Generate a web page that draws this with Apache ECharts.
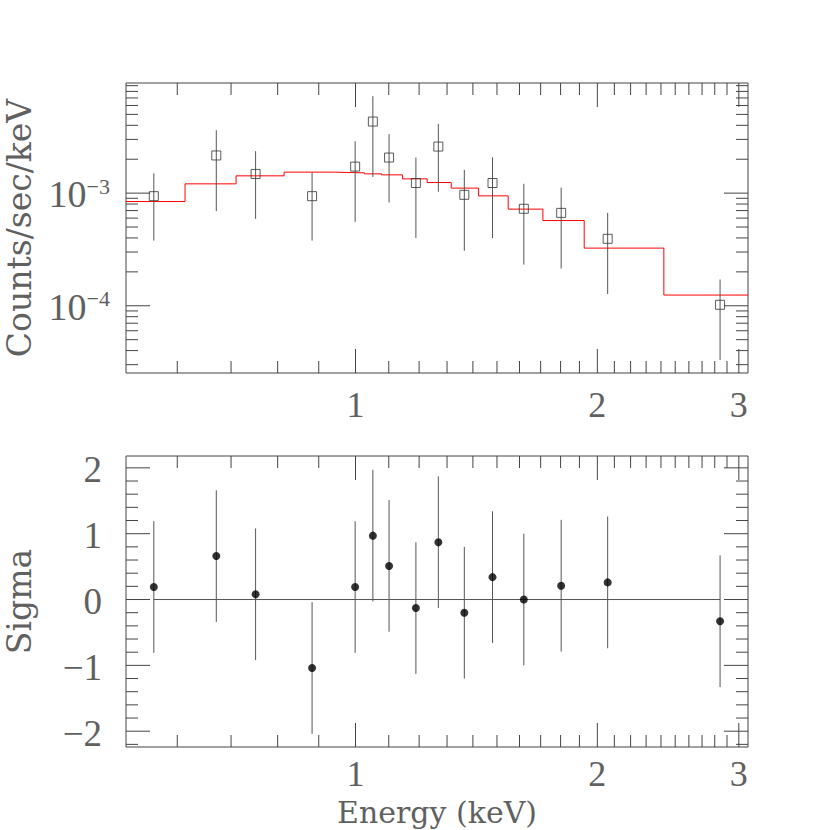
<!DOCTYPE html>
<html><head><meta charset="utf-8">
<script src="https://cdn.jsdelivr.net/npm/echarts@6/dist/echarts.min.js"></script>
<style>html,body{margin:0;padding:0;background:#fff}#c{width:830px;height:830px}</style>
</head><body><div id="c"></div>
<script>
// ---- data ----
const energy   = [0.561, 0.671, 0.751, 0.883, 0.999, 1.051, 1.101, 1.189, 1.268, 1.366, 1.481, 1.620, 1.803, 2.060, 2.843];
const rate     = [9.4e-4, 2.16e-3, 1.48e-3, 9.4e-4, 1.72e-3, 4.32e-3, 2.07e-3, 1.23e-3, 2.59e-3, 9.66e-4, 1.23e-3, 7.26e-4, 6.68e-4, 3.93e-4, 1.02e-4];
const rateLow  = [3.79e-4, 6.92e-4, 5.91e-4, 3.79e-4, 5.56e-4, 1.39e-3, 8.26e-4, 3.99e-4, 1.03e-3, 3.08e-4, 3.99e-4, 2.32e-4, 2.14e-4, 1.27e-4, 3.30e-5];
const rateHigh = [1.50e-3, 3.62e-3, 2.36e-3, 1.52e-3, 2.89e-3, 7.26e-3, 3.34e-3, 2.07e-3, 4.12e-3, 1.61e-3, 2.08e-3, 1.21e-3, 1.12e-3, 6.68e-4, 1.71e-4];
const sigma    = [0.19, 0.66, 0.08, -1.04, 0.19, 0.97, 0.51, -0.13, 0.87, -0.20, 0.34, 0.00, 0.21, 0.26, -0.33];
const sigmaErr = [1, 1, 1, 1, 1, 1, 1, 1, 1, 1, 1, 1, 1, 1, 1];
const modelEdges  = [0.518, 0.6135, 0.7101, 0.8149, 0.9389, 1.026, 1.0774, 1.144, 1.228, 1.3157, 1.423, 1.549, 1.711, 1.926, 2.420, 3.08];
const modelValues = [8.42e-4, 1.209e-3, 1.424e-3, 1.536e-3, 1.514e-3, 1.483e-3, 1.453e-3, 1.339e-3, 1.242e-3, 1.108e-3, 9.46e-4, 7.21e-4, 5.71e-4, 3.25e-4, 1.245e-4];

// ---- axes ----
const xMin = 0.518, xMax = 3.08;
const yTopMin = 2.53e-5, yTopMax = 9.5e-3;
const yBotMin = -2.24, yBotMax = 2.18;
const xMajorTicks = [1, 2, 3];
const xMinorTicks = [0.6, 0.7, 0.8, 0.9, 1.1, 1.2, 1.3, 1.4, 1.5, 1.6, 1.7, 1.8, 1.9, 2.1, 2.2, 2.3, 2.4, 2.5, 2.6, 2.7, 2.8, 2.9];
const xTickLabels = ['1', '2', '3'];
const yTopMajorTicks = [1e-3, 1e-4];
const yTopMinorTicks = [9e-3, 8e-3, 7e-3, 6e-3, 5e-3, 4e-3, 3e-3, 2e-3, 9e-4, 8e-4, 7e-4, 6e-4, 5e-4, 4e-4, 3e-4, 2e-4, 9e-5, 8e-5, 7e-5, 6e-5, 5e-5, 4e-5, 3e-5];
const yTopLabelExps = ['−3', '−4'];
const yBotMajorTicks = [-2, -1, 0, 1, 2];
const yBotMinorTicks = [-2.2, -1.8, -1.6, -1.4, -1.2, -0.8, -0.6, -0.4, -0.2, 0.2, 0.4, 0.6, 0.8, 1.2, 1.4, 1.6, 1.8];
const yBotLabels = ['−2', '−1', '0', '1', '2'];

const FRAME = '#444';
const TXT = '#606060';
const NUMFONT = '"Liberation Serif", serif';
const TITLEFONT = '"DejaVu Serif", serif';

const modelLine = modelEdges.map((e, i) => [e, modelValues[Math.min(i, modelValues.length - 1)]]);

function errRender(params, api) {
  const a = api.coord([api.value(0), api.value(1)]);
  const b = api.coord([api.value(0), api.value(2)]);
  return {type: 'line', shape: {x1: a[0], y1: a[1], x2: b[0], y2: b[1]}, style: {stroke: '#555', lineWidth: 1}};
}
function tickRender(params, api) {
  const cs = params.coordSys;
  const p = api.coord([api.value(0), api.value(1)]);
  const len = api.value(2), o = api.value(3);
  const st = {stroke: FRAME, lineWidth: 1};
  if (o === 0) {
    return {type: 'group', children: [
      {type: 'line', shape: {x1: p[0], y1: cs.y + cs.height, x2: p[0], y2: cs.y + cs.height - len}, style: st},
      {type: 'line', shape: {x1: p[0], y1: cs.y, x2: p[0], y2: cs.y + len}, style: st}
    ]};
  }
  return {type: 'group', children: [
    {type: 'line', shape: {x1: cs.x, y1: p[1], x2: cs.x + len, y2: p[1]}, style: st},
    {type: 'line', shape: {x1: cs.x + cs.width, y1: p[1], x2: cs.x + cs.width - len, y2: p[1]}, style: st}
  ]};
}
function labelRender(params, api) {
  const cs = params.coordSys;
  const p = api.coord([api.value(0), api.value(1)]);
  const kind = api.value(2), idx = api.value(3);
  if (kind === 0) {
    const off = cs.y < 300 ? 32 : 27;
    return {type: 'text', x: p[0], y: cs.y + cs.height + off,
      style: {text: xTickLabels[idx], fill: TXT, fontSize: 36, fontFamily: NUMFONT, lineHeight: 28,
              align: 'center', verticalAlign: 'middle', textAlign: 'center', textVerticalAlign: 'middle'}};
  }
  if (kind === 1) {
    return {type: 'text', x: 110, y: p[1] + 1,
      style: {text: '{a|10}{b|' + yTopLabelExps[idx] + '}', fill: TXT,
              align: 'right', verticalAlign: 'middle', textAlign: 'right', textVerticalAlign: 'middle',
              rich: {a: {fontSize: 38, fontFamily: NUMFONT, color: TXT, lineHeight: 38},
                     b: {fontSize: 22, fontFamily: NUMFONT, color: TXT, lineHeight: 24, verticalAlign: 'top'}}}};
  }
  return {type: 'text', x: cs.x - 24, y: p[1] + 2,
    style: {text: yBotLabels[idx], fill: TXT, fontSize: 37, fontFamily: NUMFONT,
            align: 'right', verticalAlign: 'middle', textAlign: 'right', textVerticalAlign: 'middle'}};
}

const topTicks = [].concat(
  xMajorTicks.map(v => [v, yTopMin, 24, 0]),
  xMinorTicks.map(v => [v, yTopMin, 12, 0]),
  yTopMajorTicks.map(v => [xMin, v, 24, 1]),
  yTopMinorTicks.map(v => [xMin, v, 12, 1]));
const botTicks = [].concat(
  xMajorTicks.map(v => [v, yBotMin, 24, 0]),
  xMinorTicks.map(v => [v, yBotMin, 12, 0]),
  yBotMajorTicks.map(v => [xMin, v, 24, 1]),
  yBotMinorTicks.map(v => [xMin, v, 12, 1]));
const topLabels = [].concat(
  xMajorTicks.map((v, i) => [v, yTopMin, 0, i]),
  yTopMajorTicks.map((v, i) => [xMin, v, 1, i]));
const botLabels = [].concat(
  xMajorTicks.map((v, i) => [v, yBotMin, 0, i]),
  yBotMajorTicks.map((v, i) => [xMin, v, 2, i]));

const hiddenAxis = {axisLine: {show: false}, axisTick: {show: false}, axisLabel: {show: false}, splitLine: {show: false}, minorTick: {show: false}};
const nameStyle = {fontFamily: TITLEFONT, fontSize: 33, color: TXT};

const chart = echarts.init(document.getElementById('c'), null, {renderer: 'svg'});
chart.setOption({
  animation: false,
  backgroundColor: '#fff',
  grid: [
    {left: 126, top: 83, width: 622, height: 290, show: true, borderColor: FRAME, borderWidth: 1, backgroundColor: 'transparent', containLabel: false, outerBoundsMode: 'none'},
    {left: 126, top: 456, width: 622, height: 291, show: true, borderColor: FRAME, borderWidth: 1, backgroundColor: 'transparent', containLabel: false, outerBoundsMode: 'none'}
  ],
  xAxis: [
    Object.assign({gridIndex: 0, type: 'log', logBase: 10, min: xMin, max: xMax}, hiddenAxis),
    Object.assign({gridIndex: 1, type: 'log', logBase: 10, min: xMin, max: xMax,
      name: 'Energy (keV)', nameLocation: 'middle', nameGap: 51,
      nameTextStyle: {fontFamily: TITLEFONT, fontSize: 30, color: TXT, lineHeight: 28}}, hiddenAxis)
  ],
  yAxis: [
    Object.assign({gridIndex: 0, type: 'log', logBase: 10, min: yTopMin, max: yTopMax,
      name: 'Counts/sec/keV', nameLocation: 'middle', nameGap: 90, nameTextStyle: nameStyle}, hiddenAxis),
    Object.assign({gridIndex: 1, type: 'value', min: yBotMin, max: yBotMax,
      name: 'Sigma', nameLocation: 'middle', nameGap: 90, nameTextStyle: nameStyle}, hiddenAxis)
  ],
  series: [
    {type: 'custom', xAxisIndex: 0, yAxisIndex: 0, data: topTicks, renderItem: tickRender, silent: true, z: 1},
    {type: 'custom', xAxisIndex: 1, yAxisIndex: 1, data: botTicks, renderItem: tickRender, silent: true, z: 1},
    {type: 'custom', xAxisIndex: 0, yAxisIndex: 0, data: topLabels, renderItem: labelRender, silent: true, z: 1},
    {type: 'custom', xAxisIndex: 1, yAxisIndex: 1, data: botLabels, renderItem: labelRender, silent: true, z: 1},
    {type: 'line', xAxisIndex: 0, yAxisIndex: 0, data: modelLine, step: 'end', symbol: 'none',
      lineStyle: {color: '#ff0000', width: 1}, silent: true, z: 2},
    {type: 'custom', xAxisIndex: 0, yAxisIndex: 0, data: energy.map((e, i) => [e, rateLow[i], rateHigh[i]]),
      renderItem: errRender, silent: true, z: 3},
    {type: 'scatter', xAxisIndex: 0, yAxisIndex: 0, data: energy.map((e, i) => [e, rate[i]]),
      symbol: 'rect', symbolSize: 9, itemStyle: {color: 'rgba(255,255,255,0)', borderColor: '#333', borderWidth: 1}, silent: true, z: 4},
    {type: 'line', xAxisIndex: 1, yAxisIndex: 1, data: [[energy[0], 0], [energy[energy.length - 1], 0]], symbol: 'none',
      lineStyle: {color: '#555', width: 1}, silent: true, z: 2},
    {type: 'custom', xAxisIndex: 1, yAxisIndex: 1, data: energy.map((e, i) => [e, sigma[i] - sigmaErr[i], sigma[i] + sigmaErr[i]]),
      renderItem: errRender, silent: true, z: 3},
    {type: 'scatter', xAxisIndex: 1, yAxisIndex: 1, data: energy.map((e, i) => [e, sigma[i]]),
      symbol: 'circle', symbolSize: 8, itemStyle: {color: '#000'}, silent: true, z: 4}
  ]
});
</script>
</body></html>
